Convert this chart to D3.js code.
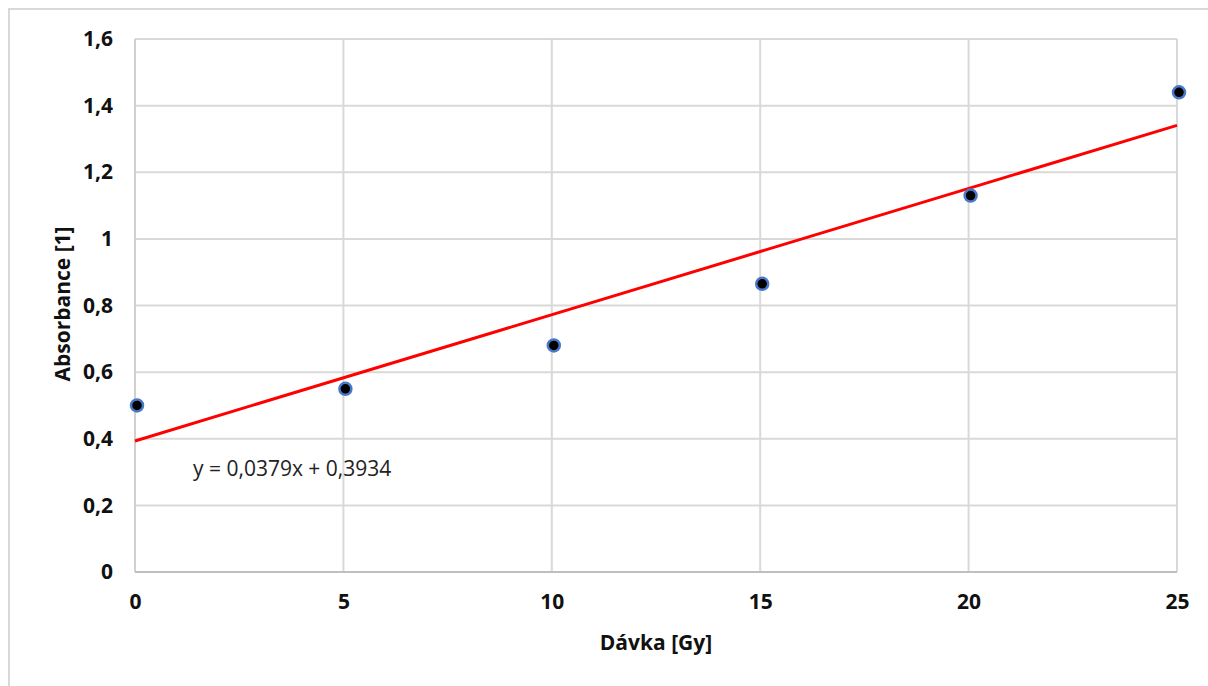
<!DOCTYPE html>
<html><head><meta charset="utf-8">
<script src="https://cdn.jsdelivr.net/npm/d3@7"></script>
<style>body{margin:0;background:#fff}svg{display:block}</style>
</head><body>
<svg id="c" width="1208" height="686"></svg>
<script>
const doses = [0, 5, 10, 15, 20, 25];
const absorbance = [0.5, 0.55, 0.68, 0.865, 1.13, 1.44];
const yTicks = [0, 0.2, 0.4, 0.6, 0.8, 1, 1.2, 1.4, 1.6];
const xTicks = [0, 5, 10, 15, 20, 25];
const slope = 0.0379, intercept = 0.3934;
const eqLabel = "y = 0,0379x + 0,3934";
const xTitle = "Dávka [Gy]", yTitle = "Absorbance [1]";

const svg = d3.select("#c");
const font = "'Open Sans', 'Noto Sans', sans-serif";
svg.append("rect").attr("x",9).attr("y",9).attr("width",1230).attr("height",700)
  .attr("fill","none").attr("stroke","#d9d9d9").attr("stroke-width",2);

const x = d3.scaleLinear().domain([0,25]).range([135,1177]);
const y = d3.scaleLinear().domain([0,1.6]).range([572,39]);
const fmt = d => String(+d.toFixed(1)).replace(".", ",");

// gridlines
svg.append("g").selectAll("line").data(yTicks.slice(1)).join("line")
  .attr("x1",x(0)).attr("x2",x(25)).attr("y1",d=>y(d)).attr("y2",d=>y(d))
  .attr("stroke","#d9d9d9").attr("stroke-width",2);
svg.append("g").selectAll("line").data(xTicks.slice(1)).join("line")
  .attr("y1",y(0)).attr("y2",y(1.6)).attr("x1",d=>x(d)).attr("x2",d=>x(d))
  .attr("stroke","#d9d9d9").attr("stroke-width",2);
// axes lines
svg.append("line").attr("x1",x(0)).attr("x2",x(0)).attr("y1",y(0)).attr("y2",y(1.6))
  .attr("stroke","#d0d0d0").attr("stroke-width",2);
svg.append("line").attr("x1",x(0)).attr("x2",x(25)).attr("y1",y(0)).attr("y2",y(0))
  .attr("stroke","#bfbfbf").attr("stroke-width",2);

// tick labels
const yAxis = d3.axisLeft(y).tickValues(yTicks).tickFormat(fmt).tickSize(0).tickPadding(22);
const gy = svg.append("g").attr("transform",`translate(${x(0)},0)`).call(yAxis);
gy.select(".domain").remove();
gy.selectAll("text").attr("font-family",font).attr("font-size",21).attr("font-weight","bold").attr("fill","#111");
const xAxis = d3.axisBottom(x).tickValues(xTicks).tickFormat(d=>d).tickSize(0).tickPadding(22);
const gx = svg.append("g").attr("transform",`translate(0,${y(0)})`).call(xAxis);
gx.select(".domain").remove();
gx.selectAll("text").attr("font-family",font).attr("font-size",21).attr("font-weight","bold").attr("fill","#111");

// trendline
svg.append("line").attr("x1",x(0)).attr("y1",y(intercept))
  .attr("x2",x(25)).attr("y2",y(intercept+slope*25))
  .attr("stroke","#ff0000").attr("stroke-width",3);

// points
svg.append("g").selectAll("circle").data(doses.map((d,i)=>[d,absorbance[i]])).join("circle")
  .attr("cx",d=>x(d[0])+2).attr("cy",d=>y(d[1])).attr("r",6)
  .attr("fill","#000").attr("stroke","#4a78c8").attr("stroke-width",2.5);

// equation
svg.append("text").attr("x",193).attr("y",476).text(eqLabel)
  .attr("font-family",font).attr("font-size",21).attr("fill","#222");

// titles
svg.append("text").attr("x",656).attr("y",650).attr("text-anchor","middle").text(xTitle)
  .attr("font-family",font).attr("font-size",21).attr("font-weight","bold").attr("fill","#111");
svg.append("text").attr("transform","translate(70,304) rotate(-90)").attr("text-anchor","middle").text(yTitle)
  .attr("font-family",font).attr("font-size",21).attr("font-weight","bold").attr("fill","#111");
</script>
</body></html>
